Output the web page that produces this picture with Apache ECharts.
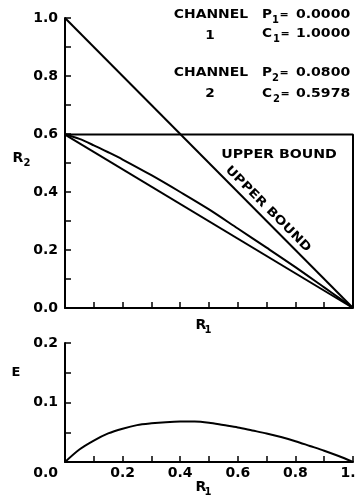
<!DOCTYPE html>
<html><head><meta charset="utf-8">
<script src="https://cdn.jsdelivr.net/npm/echarts@6/dist/echarts.min.js"></script>
<style>html,body{margin:0;padding:0;background:#fff}#c{width:355px;height:495px}</style>
</head><body><div id="c"></div>
<script>
// ---- data ----
const r1Curve = [0, 0.05, 0.1, 0.15, 0.2, 0.3, 0.4, 0.5, 0.6, 0.7, 0.8, 0.9, 0.95, 1.0];
const r2Curve = [0.598, 0.583, 0.561, 0.537, 0.512, 0.458, 0.400, 0.340, 0.274, 0.208, 0.141, 0.071, 0.036, 0];
const r1TimeShare = [0, 1];
const r2TimeShare = [0.598, 0];
const r1BoundDiag = [0, 1];
const r2BoundDiag = [1, 0];
const r1BoundRect = [0, 1, 1];
const r2BoundRect = [0.598, 0.598, 0];
const r1E = [0, 0.05, 0.1, 0.15, 0.2, 0.25, 0.3, 0.35, 0.4, 0.45, 0.5, 0.55, 0.6, 0.65, 0.7, 0.75, 0.8, 0.85, 0.9, 0.95, 1.0];
const eVals = [0, 0.021, 0.036, 0.048, 0.056, 0.062, 0.065, 0.067, 0.068, 0.068, 0.066, 0.062, 0.058, 0.053, 0.048, 0.042, 0.035, 0.027, 0.019, 0.010, 0];
const topYLabels = ['0.0', '0.2', '0.4', '0.6', '0.8', '1.0'];
const botXLabels = ['0.2', '0.4', '0.6', '0.8', '1.0'];
const botYLabels = ['0.0', '0.1', '0.2'];
const channelNames = ['1', '2'];
const channelP = ['0.0000', '0.0800'];
const channelC = ['1.0000', '0.5978'];
const boundLabel = 'UPPER BOUND';

// ---- helpers ----
const FF = '"DejaVu Sans", sans-serif';
const zip = (a, b) => a.map((v, i) => [v, b[i]]);
const pick = (labels) => (v) => { const f = labels.find(l => Math.abs(parseFloat(l) - v) < 1e-6); return f || ''; };
function T(text, x, y, size, o) {
  o = o || {};
  return {
    type: 'text', x: x, y: y, scaleX: o.sx || 1, scaleY: 1, rotation: o.rot || 0, z: 10,
    style: { text: text, fontSize: size, fontFamily: FF, fontWeight: o.fw || 'bold', fill: '#000',
      align: o.align || 'center', verticalAlign: 'middle', textAlign: o.align || 'center', textVerticalAlign: 'middle' }
  };
}
const axisLineStyle = { color: '#000', width: 2 };
const tickStyle = { color: '#000', width: 1.5 };
const labelBase = { color: '#000', fontSize: 14, fontFamily: FF, fontWeight: 'bold' };
function lineSeries(extra, xi, data) {
  return Object.assign({ type: 'line', xAxisIndex: xi, yAxisIndex: xi, data: data, showSymbol: false, symbol: 'none',
    lineStyle: { color: '#000', width: 2 }, clip: false, animation: false, z: 3 }, extra);
}

const graphics = [];
const rowY = [[15, 34], [73, 94]];
channelNames.forEach((n, i) => {
  const [yp, yc] = rowY[i];
  graphics.push(T('CHANNEL', 211, yp, 13, { sx: 1.07 }));
  graphics.push(T(n, 210, yp + 21, 13, { sx: 1.05 }));
  graphics.push(T('P', 262, yp, 13, { sx: 1.05, align: 'left' }));
  graphics.push(T(String(i + 1), 272, yp + 5, 10, { sx: 1.0, align: 'left' }));
  graphics.push(T('=', 284, yp, 11, { sx: 1.0 }));
  graphics.push(T(channelP[i], 296, yp, 13, { sx: 1.08, align: 'left' }));
  graphics.push(T('C', 262, yc, 13, { sx: 1.05, align: 'left' }));
  graphics.push(T(String(i + 1), 273, yc + 5, 10, { sx: 1.0, align: 'left' }));
  graphics.push(T('=', 285, yc, 11, { sx: 1.0 }));
  graphics.push(T(channelC[i], 296, yc, 13, { sx: 1.08, align: 'left' }));
});
graphics.push(T(boundLabel, 279, 155, 12, { sx: 1.18 }));
graphics.push(T(boundLabel, 268, 209, 12, { sx: 1.18, rot: -Math.atan2(290, 288) }));
graphics.push(T('R', 18, 158, 14));
graphics.push(T('2', 27, 163, 10));
graphics.push(T('R', 201, 325, 14));
graphics.push(T('1', 208, 330, 10));
graphics.push(T('E', 16, 373, 13));
graphics.push(T('R', 201, 487, 14));
graphics.push(T('1', 208, 492, 10));

const option = {
  animation: false,
  backgroundColor: '#fff',
  grid: [
    { left: 65, right: 2, top: 18, height: 290, containLabel: false, outerBoundsMode: 'none' },
    { left: 65, right: 2, top: 343, height: 119, containLabel: false, outerBoundsMode: 'none' }
  ],
  xAxis: [
    { gridIndex: 0, type: 'value', min: 0, max: 1, interval: 0.1,
      axisLine: { show: true, onZero: false, lineStyle: axisLineStyle },
      axisTick: { show: true, inside: true, length: 6, lineStyle: tickStyle },
      axisLabel: { show: false }, splitLine: { show: false } },
    { gridIndex: 1, type: 'value', min: 0, max: 1, interval: 0.1,
      axisLine: { show: true, onZero: false, lineStyle: axisLineStyle },
      axisTick: { show: true, inside: true, length: 6, lineStyle: tickStyle },
      axisLabel: Object.assign({}, labelBase, { margin: 4, showMinLabel: true, showMaxLabel: true,
        alignMinLabel: 'center', alignMaxLabel: 'center', hideOverlap: false,
        formatter: v => v > 0 ? pick(botXLabels)(v) : '' }),
      splitLine: { show: false } }
  ],
  yAxis: [
    { gridIndex: 0, type: 'value', min: 0, max: 1, interval: 0.1,
      axisLine: { show: true, onZero: false, lineStyle: axisLineStyle },
      axisTick: { show: true, inside: true, length: 6, lineStyle: tickStyle },
      axisLabel: Object.assign({}, labelBase, { margin: 7, formatter: pick(topYLabels) }),
      splitLine: { show: false } },
    { gridIndex: 1, type: 'value', min: 0, max: 0.2, interval: 0.05,
      axisLine: { show: true, onZero: false, lineStyle: axisLineStyle },
      axisTick: { show: true, inside: true, length: 6, lineStyle: tickStyle },
      axisLabel: Object.assign({}, labelBase, { margin: 7,
        formatter: v => { const s = pick(botYLabels)(v); return v === 0 ? '{low|' + s + '}' : s; },
        rich: { low: Object.assign({}, labelBase, { padding: [22, 0, 0, 0] }) } }),
      splitLine: { show: false } }
  ],
  series: [
    lineSeries({ smooth: 0.3 }, 0, zip(r1Curve, r2Curve)),
    lineSeries({}, 0, zip(r1TimeShare, r2TimeShare)),
    lineSeries({}, 0, zip(r1BoundDiag, r2BoundDiag)),
    lineSeries({}, 0, zip(r1BoundRect, r2BoundRect)),
    lineSeries({ smooth: 0.3 }, 1, zip(r1E, eVals))
  ],
  graphic: { elements: graphics }
};
const chart = echarts.init(document.getElementById('c'), null, { renderer: 'canvas' });
chart.setOption(option);
</script>
</body></html>
